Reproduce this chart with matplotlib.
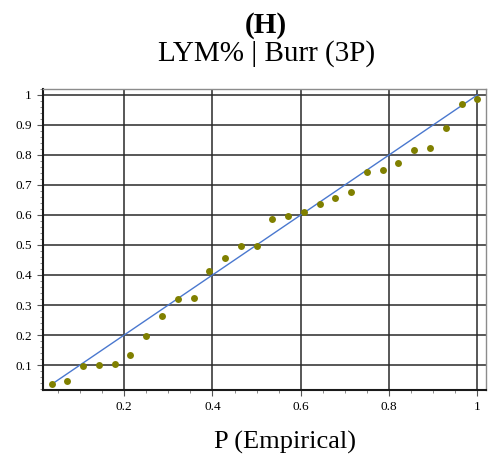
import matplotlib
matplotlib.use("Agg")
import matplotlib.pyplot as plt
from matplotlib.ticker import MultipleLocator, FixedLocator

plt.rcParams['font.family'] = ['Liberation Serif', 'DejaVu Serif']

# Empirical probabilities (i/n, n = 28) and fitted Burr (3P) CDF values
p_empirical = [i / 28 for i in range(1, 29)]
p_fitted = [0.036, 0.046, 0.097, 0.100, 0.104, 0.133, 0.196, 0.264, 0.320,
            0.323, 0.414, 0.458, 0.498, 0.498, 0.586, 0.596, 0.610, 0.637,
            0.658, 0.677, 0.742, 0.749, 0.774, 0.818, 0.822, 0.891, 0.971,
            0.986]
ref_line = [p_empirical[0], 1.0]
x_ticks = [0.2, 0.4, 0.6, 0.8, 1.0]
x_labels = ['0.2', '0.4', '0.6', '0.8', '1']
y_ticks = [0.1, 0.2, 0.3, 0.4, 0.5, 0.6, 0.7, 0.8, 0.9, 1.0]
y_labels = ['0.1', '0.2', '0.3', '0.4', '0.5', '0.6', '0.7', '0.8', '0.9', '1']

fig = plt.figure(figsize=(4.94, 4.61), dpi=100)
ax = fig.add_axes([0.087, 0.154, 0.897, 0.653])

ax.set_xlim(0.016, 1.02)
ax.set_ylim(0.0167, 1.02)

ax.xaxis.set_major_locator(FixedLocator(x_ticks))
ax.xaxis.set_minor_locator(MultipleLocator(0.05))
ax.yaxis.set_major_locator(FixedLocator(y_ticks))
ax.yaxis.set_minor_locator(MultipleLocator(0.02))
ax.set_xticklabels(x_labels)
ax.set_yticklabels(y_labels)

ax.grid(True, which='major', color='#2a2a2a', linewidth=1.1, zorder=0)
ax.set_axisbelow(True)

ax.plot(ref_line, ref_line, color='#4a78cf', linewidth=1.0, zorder=2)
ax.plot(p_empirical, p_fitted, linestyle='none', marker='o', markersize=5,
        color='#808000', markeredgewidth=0, zorder=3)

for side in ('top', 'right'):
    ax.spines[side].set_color('#8c8c8c')
    ax.spines[side].set_linewidth(1.0)
for side in ('left', 'bottom'):
    ax.spines[side].set_color('#1a1a1a')
    ax.spines[side].set_linewidth(1.5)

ax.tick_params(axis='both', which='major', direction='out', length=4,
               width=0.8, color='#555555', labelsize=9.5, pad=4)
ax.tick_params(axis='both', which='minor', direction='out', length=2.5,
               width=0.6, color='#777777')

fig.text(0.539, 0.930, '(H)', ha='center', va='baseline', fontsize=21,
         fontweight='bold')
fig.text(0.539, 0.868, 'LYM% | Burr (3P)', ha='center', va='baseline',
         fontsize=21)
fig.text(0.577, 0.028, 'P (Empirical)', ha='center', va='baseline', fontsize=19)

fig.savefig('out.png', dpi=100)
